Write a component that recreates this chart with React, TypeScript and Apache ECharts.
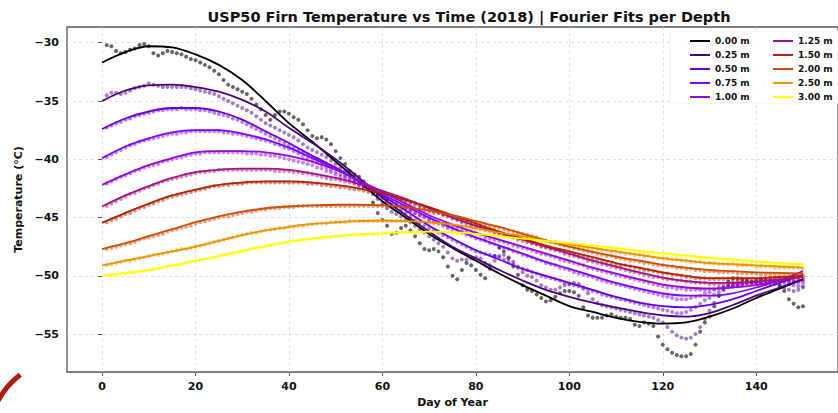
import React, { useEffect, useRef } from "react";
import * as echarts from "echarts";

const depthNames = ["0.00 m", "0.25 m", "0.50 m", "0.75 m", "1.00 m", "1.25 m", "1.50 m", "2.00 m", "2.50 m", "3.00 m"];
const depthColors = ["#000000", "#4a0080", "#6801dd", "#8004ff", "#9309dd", "#a51280", "#b42000", "#d04c00", "#e99400", "#ffff00"];

const xTicks = [0, 20, 40, 60, 80, 100, 120, 140];
const yTicks = [-55, -50, -45, -40, -35, -30];

const fitDays = [0, 5, 10, 15, 20, 25, 30, 35, 40, 45, 50, 55, 60, 65, 70, 75, 80, 85, 90, 95, 100, 105, 110, 115, 120, 125, 130, 135, 140, 145, 150];
const dataDays = Array.from({ length: 150 }, (_, i) => i + 1);

const fit000 = [-31.7, -30.8, -30.3, -30.4, -31.0, -31.9, -33.2, -35.0, -36.9, -38.5, -40.2, -41.9, -43.6, -45.0, -46.4, -47.6, -48.7, -49.8, -50.8, -51.7, -52.6, -53.1, -53.6, -53.95, -54.1, -54.0, -53.5, -52.8, -51.9, -51.1, -50.3];
const fit025 = [-35.0, -34.1, -33.65, -33.6, -33.8, -34.2, -34.9, -35.9, -37.3, -38.6, -40.0, -41.6, -43.3, -44.8, -46.2, -47.5, -48.5, -49.5, -50.4, -51.2, -51.8, -52.3, -52.7, -53.1, -53.4, -53.5, -53.2, -52.5, -51.7, -51.0, -50.3];
const fit050 = [-37.4, -36.5, -35.9, -35.6, -35.6, -35.9, -36.6, -37.6, -38.6, -39.7, -40.7, -41.9, -43.1, -44.4, -45.7, -46.8, -47.8, -48.6, -49.4, -50.0, -50.6, -51.2, -51.8, -52.3, -52.6, -52.7, -52.5, -52.0, -51.3, -50.6, -49.9];
const fit075 = [-39.9, -38.9, -38.2, -37.7, -37.5, -37.5, -37.8, -38.3, -39.0, -39.9, -40.8, -41.9, -43.0, -44.0, -45.0, -45.9, -46.7, -47.4, -48.1, -48.8, -49.4, -50.0, -50.6, -51.1, -51.5, -51.7, -51.7, -51.5, -51.0, -50.4, -49.6];
const fit100 = [-42.2, -41.3, -40.5, -39.9, -39.4, -39.3, -39.3, -39.4, -39.7, -40.2, -40.9, -41.8, -42.8, -43.8, -44.8, -45.6, -46.3, -46.9, -47.5, -48.1, -48.7, -49.3, -49.8, -50.3, -50.75, -51.0, -51.1, -51.0, -50.8, -50.4, -50.0];
const fit125 = [-44.05, -43.1, -42.3, -41.6, -41.1, -40.9, -40.8, -40.8, -40.9, -41.2, -41.6, -42.1, -42.7, -43.4, -44.2, -45.0, -45.7, -46.3, -46.9, -47.5, -48.1, -48.7, -49.2, -49.7, -50.15, -50.45, -50.6, -50.6, -50.5, -50.3, -50.1];
const fit150 = [-45.45, -44.6, -43.8, -43.1, -42.6, -42.2, -42.0, -41.9, -41.9, -42.0, -42.2, -42.5, -42.9, -43.5, -44.1, -44.8, -45.5, -46.2, -46.8, -47.4, -47.9, -48.4, -48.9, -49.3, -49.7, -50.0, -50.2, -50.2, -50.2, -50.1, -50.0];
const fit200 = [-47.7, -47.2, -46.6, -46.0, -45.4, -44.9, -44.5, -44.2, -44.05, -43.95, -43.9, -43.9, -43.95, -44.1, -44.4, -44.8, -45.3, -45.8, -46.4, -46.95, -47.5, -47.95, -48.35, -48.7, -49.05, -49.3, -49.5, -49.6, -49.7, -49.75, -49.8];
const fit250 = [-49.1, -48.7, -48.3, -47.9, -47.5, -47.0, -46.5, -46.1, -45.8, -45.55, -45.4, -45.3, -45.25, -45.3, -45.4, -45.6, -45.9, -46.3, -46.6, -47.0, -47.3, -47.6, -47.9, -48.2, -48.5, -48.7, -48.9, -49.0, -49.1, -49.2, -49.3];
const fit300 = [-50.0, -49.75, -49.5, -49.1, -48.7, -48.3, -47.85, -47.45, -47.05, -46.8, -46.6, -46.45, -46.35, -46.25, -46.2, -46.25, -46.4, -46.6, -46.8, -47.0, -47.2, -47.4, -47.6, -47.85, -48.05, -48.25, -48.45, -48.6, -48.75, -48.9, -49.0];

const obs000 = [
  -30.2, -30.3, -30.7, -30.9, -30.8, -30.6, -30.5, -30.2, -30.1, -30.3,
  -30.9, -31.1, -30.9, -30.7, -30.8, -30.9, -31.0, -31.2, -31.4, -31.5,
  -31.7, -31.9, -32.1, -32.4, -32.7, -33.2, -33.6, -33.8, -34.0, -34.2,
  -34.4, -34.8, -35.3, -35.7, -36.2, -36.6, -36.2, -35.9, -35.9, -36.1,
  -36.4, -36.6, -37.0, -37.5, -38.0, -38.2, -38.1, -38.3, -38.7, -39.3,
  -39.9, -40.4, -41.0, -41.3, -41.5, -41.9, -42.6, -43.7, -44.6, -45.2,
  -45.7, -46.4, -46.3, -45.9, -45.7, -46.1, -46.6, -47.2, -47.7, -47.8,
  -47.7, -47.9, -48.4, -49.2, -50.0, -50.3, -49.5, -48.9, -49.1, -49.5,
  -49.9, -50.2, -49.4, -48.3, -47.6, -47.9, -48.5, -49.2, -49.9, -50.8,
  -51.2, -51.3, -51.6, -51.9, -52.2, -52.1, -51.8, -51.5, -51.3, -51.3,
  -51.4, -51.7, -52.7, -53.4, -53.6, -53.6, -53.6, -53.4, -53.3, -53.5,
  -53.6, -53.6, -53.7, -54.2, -54.3, -54.0, -54.1, -54.3, -55.2, -55.9,
  -56.3, -56.6, -56.8, -56.9, -56.9, -56.7, -55.9, -54.8, -54.0, -53.5,
  -52.6, -51.7, -51.0, -50.5, -50.2, -50.2, -50.3, -50.4, -50.5, -50.4,
  -50.3, -50.4, -50.5, -50.5, -50.8, -51.3, -52.0, -52.4, -52.7, -52.6,
];
const obs025 = [
  -34.5, -34.3, -34.3, -34.4, -34.3, -34.1, -33.9, -33.8, -33.7, -33.5,
  -33.6, -33.7, -33.8, -33.8, -33.8, -33.8, -33.8, -33.8, -33.9, -34.0,
  -34.1, -34.2, -34.3, -34.4, -34.6, -34.8, -35.0, -35.2, -35.4, -35.6,
  -35.8, -36.0, -36.3, -36.6, -36.9, -37.1, -37.3, -37.5, -37.7, -37.9,
  -38.1, -38.4, -38.7, -39.0, -39.2, -39.4, -39.6, -39.8, -40.1, -40.4,
  -40.7, -41.0, -41.3, -41.6, -41.9, -42.2, -42.6, -43.0, -43.4, -43.8,
  -44.2, -44.5, -44.7, -44.9, -45.1, -45.4, -45.7, -46.0, -46.3, -46.6,
  -46.9, -47.2, -47.5, -48.0, -48.5, -48.7, -48.6, -48.6, -48.5, -48.4,
  -48.5, -48.9, -49.1, -48.7, -48.3, -48.2, -48.4, -48.8, -49.3, -49.7,
  -50.0, -50.1, -50.4, -50.8, -51.0, -51.2, -51.2, -51.0, -50.8, -50.7,
  -50.6, -50.7, -51.0, -51.5, -52.0, -52.3, -52.5, -52.6, -52.7, -52.8,
  -52.9, -53.0, -53.1, -53.2, -53.3, -53.4, -53.5, -53.6, -53.8, -54.0,
  -54.4, -54.8, -55.1, -55.3, -55.4, -55.3, -55.0, -54.4, -53.7, -53.0,
  -52.3, -51.7, -51.2, -50.8, -50.6, -50.5, -50.5, -50.5, -50.6, -50.6,
  -50.6, -50.7, -50.7, -50.7, -50.8, -51.0, -51.2, -51.3, -51.2, -51.0,
];
const obs050 = [
  -37.3, -37.1, -36.9, -36.8, -36.6, -36.5, -36.3, -36.2, -36.1, -36.0,
  -35.9, -35.8, -35.8, -35.7, -35.7, -35.7, -35.6, -35.7, -35.7, -35.7,
  -35.8, -35.8, -35.9, -36.0, -36.1, -36.2, -36.3, -36.5, -36.6, -36.8,
  -37.0, -37.2, -37.4, -37.6, -37.8, -38.0, -38.2, -38.4, -38.6, -38.8,
  -39.0, -39.2, -39.4, -39.6, -39.8, -40.0, -40.2, -40.4, -40.6, -40.8,
  -41.0, -41.3, -41.5, -41.8, -42.0, -42.3, -42.5, -42.8, -43.1, -43.3,
  -43.6, -43.9, -44.1, -44.4, -44.6, -44.9, -45.2, -45.4, -45.7, -45.9,
  -46.1, -46.3, -46.5, -46.7, -46.9, -47.1, -47.3, -47.5, -47.7, -47.9,
  -48.0, -48.1, -48.2, -48.3, -48.4, -48.6, -48.8, -49.0, -49.2, -49.4,
  -49.5, -49.7, -49.8, -50.0, -50.1, -50.2, -50.3, -50.4, -50.6, -50.7,
  -50.8, -50.9, -51.1, -51.2, -51.3, -51.4, -51.6, -51.7, -51.8, -51.9,
  -52.0, -52.1, -52.2, -52.3, -52.4, -52.5, -52.6, -52.7, -52.8, -52.9,
  -53.0, -53.1, -53.2, -53.2, -53.1, -52.9, -52.7, -52.4, -52.1, -51.9,
  -51.6, -51.4, -51.2, -51.0, -50.9, -50.8, -50.7, -50.6, -50.5, -50.5,
  -50.4, -50.4, -50.4, -50.5, -50.5, -50.6, -50.7, -50.8, -50.9, -50.9,
];
const obs075 = [
  -39.8, -39.6, -39.4, -39.2, -39.0, -38.8, -38.7, -38.5, -38.4, -38.3,
  -38.2, -38.1, -38.0, -37.9, -37.8, -37.8, -37.7, -37.7, -37.6, -37.6,
  -37.6, -37.6, -37.6, -37.6, -37.6, -37.7, -37.7, -37.8, -37.8, -37.9,
  -38.0, -38.1, -38.2, -38.3, -38.4, -38.5, -38.7, -38.8, -39.0, -39.1,
  -39.3, -39.5, -39.7, -39.9, -40.1, -40.3, -40.5, -40.7, -40.9, -41.1,
  -41.3, -41.5, -41.7, -41.9, -42.1, -42.3, -42.5, -42.8, -43.0, -43.2,
  -43.4, -43.6, -43.8, -44.0, -44.2, -44.4, -44.6, -44.8, -45.0, -45.2,
  -45.4, -45.5, -45.7, -45.9, -46.0, -46.2, -46.3, -46.5, -46.6, -46.8,
  -46.9, -47.0, -47.2, -47.3, -47.5, -47.6, -47.7, -47.9, -48.0, -48.2,
  -48.3, -48.4, -48.6, -48.7, -48.9, -49.0, -49.1, -49.3, -49.4, -49.5,
  -49.7, -49.8, -49.9, -50.0, -50.1, -50.3, -50.4, -50.5, -50.6, -50.7,
  -50.8, -50.9, -51.0, -51.1, -51.2, -51.3, -51.4, -51.5, -51.6, -51.7,
  -51.8, -51.9, -52.0, -52.0, -52.0, -51.9, -51.8, -51.7, -51.5, -51.4,
  -51.2, -51.1, -51.0, -50.9, -50.8, -50.7, -50.6, -50.6, -50.5, -50.5,
  -50.4, -50.4, -50.4, -50.4, -50.4, -50.4, -50.5, -50.5, -50.6, -50.6,
];
const obs100 = [
  -42.1, -41.9, -41.7, -41.5, -41.4, -41.2, -41.0, -40.9, -40.7, -40.6,
  -40.5, -40.4, -40.2, -40.1, -40.0, -39.9, -39.8, -39.7, -39.6, -39.5,
  -39.5, -39.4, -39.4, -39.4, -39.4, -39.4, -39.4, -39.4, -39.4, -39.4,
  -39.5, -39.5, -39.5, -39.6, -39.6, -39.7, -39.7, -39.8, -39.9, -40.0,
  -40.1, -40.2, -40.3, -40.4, -40.5, -40.7, -40.8, -41.0, -41.1, -41.3,
  -41.5, -41.6, -41.8, -42.0, -42.2, -42.4, -42.6, -42.8, -43.0, -43.2,
  -43.4, -43.6, -43.8, -44.0, -44.2, -44.4, -44.6, -44.8, -44.9, -45.1,
  -45.3, -45.4, -45.5, -45.7, -45.8, -45.9, -46.1, -46.2, -46.3, -46.4,
  -46.5, -46.7, -46.8, -46.9, -47.0, -47.1, -47.2, -47.4, -47.5, -47.6,
  -47.7, -47.8, -48.0, -48.1, -48.2, -48.3, -48.4, -48.6, -48.7, -48.8,
  -48.9, -49.0, -49.1, -49.3, -49.4, -49.5, -49.6, -49.7, -49.8, -49.9,
  -50.0, -50.1, -50.2, -50.3, -50.4, -50.5, -50.6, -50.7, -50.8, -50.9,
  -51.0, -51.0, -51.1, -51.1, -51.2, -51.2, -51.2, -51.2, -51.2, -51.1,
  -51.1, -51.0, -51.0, -50.9, -50.9, -50.8, -50.8, -50.7, -50.7, -50.6,
  -50.6, -50.5, -50.5, -50.4, -50.4, -50.4, -50.4, -50.4, -50.4, -50.4,
];
const obs125 = [
  -44.0, -43.8, -43.6, -43.4, -43.2, -43.0, -42.9, -42.7, -42.5, -42.4,
  -42.2, -42.1, -41.9, -41.8, -41.7, -41.6, -41.5, -41.4, -41.3, -41.2,
  -41.1, -41.1, -41.0, -41.0, -40.9, -40.9, -40.9, -40.9, -40.9, -40.9,
  -40.9, -40.9, -40.9, -40.9, -40.9, -40.9, -41.0, -41.0, -41.0, -41.0,
  -41.1, -41.1, -41.2, -41.2, -41.3, -41.4, -41.5, -41.6, -41.7, -41.7,
  -41.8, -41.9, -42.0, -42.1, -42.2, -42.3, -42.5, -42.6, -42.7, -42.8,
  -43.0, -43.1, -43.3, -43.4, -43.5, -43.7, -43.9, -44.0, -44.2, -44.3,
  -44.5, -44.6, -44.8, -44.9, -45.1, -45.2, -45.4, -45.5, -45.7, -45.8,
  -45.9, -46.0, -46.1, -46.3, -46.4, -46.5, -46.6, -46.7, -46.9, -47.0,
  -47.1, -47.2, -47.3, -47.5, -47.6, -47.7, -47.8, -47.9, -48.1, -48.2,
  -48.3, -48.4, -48.5, -48.7, -48.8, -48.9, -49.0, -49.1, -49.2, -49.3,
  -49.4, -49.5, -49.6, -49.7, -49.8, -49.9, -50.0, -50.1, -50.1, -50.2,
  -50.3, -50.3, -50.4, -50.4, -50.5, -50.5, -50.6, -50.6, -50.6, -50.7,
  -50.7, -50.7, -50.7, -50.7, -50.7, -50.7, -50.7, -50.6, -50.6, -50.6,
  -50.6, -50.5, -50.5, -50.5, -50.4, -50.4, -50.4, -50.4, -50.3, -50.3,
];
const obs150 = [
  -45.4, -45.2, -45.1, -44.9, -44.7, -44.6, -44.4, -44.2, -44.1, -43.9,
  -43.8, -43.6, -43.5, -43.3, -43.2, -43.1, -43.0, -42.9, -42.8, -42.7,
  -42.6, -42.5, -42.4, -42.3, -42.3, -42.2, -42.2, -42.1, -42.1, -42.1,
  -42.0, -42.0, -42.0, -42.0, -42.0, -42.0, -42.0, -42.0, -42.0, -42.0,
  -42.0, -42.0, -42.0, -42.1, -42.1, -42.1, -42.2, -42.2, -42.3, -42.3,
  -42.4, -42.4, -42.5, -42.6, -42.6, -42.7, -42.8, -42.9, -43.0, -43.0,
  -43.1, -43.2, -43.4, -43.5, -43.6, -43.7, -43.8, -44.0, -44.1, -44.2,
  -44.4, -44.5, -44.7, -44.8, -45.0, -45.1, -45.3, -45.4, -45.6, -45.7,
  -45.8, -46.0, -46.1, -46.2, -46.3, -46.5, -46.6, -46.7, -46.8, -46.9,
  -47.0, -47.2, -47.3, -47.4, -47.5, -47.6, -47.7, -47.8, -47.9, -48.0,
  -48.1, -48.2, -48.3, -48.4, -48.5, -48.6, -48.7, -48.8, -48.9, -49.0,
  -49.1, -49.1, -49.2, -49.3, -49.4, -49.5, -49.5, -49.6, -49.7, -49.8,
  -49.8, -49.9, -49.9, -50.0, -50.1, -50.1, -50.2, -50.2, -50.2, -50.3,
  -50.3, -50.3, -50.3, -50.3, -50.3, -50.3, -50.3, -50.3, -50.3, -50.3,
  -50.3, -50.3, -50.2, -50.2, -50.2, -50.2, -50.2, -50.1, -50.1, -50.1,
];
const obs200 = [
  -47.7, -47.6, -47.5, -47.4, -47.3, -47.2, -47.1, -46.9, -46.8, -46.7,
  -46.6, -46.5, -46.4, -46.2, -46.1, -46.0, -45.9, -45.8, -45.7, -45.5,
  -45.4, -45.3, -45.2, -45.1, -45.0, -44.9, -44.9, -44.8, -44.7, -44.6,
  -44.5, -44.5, -44.4, -44.3, -44.3, -44.2, -44.2, -44.2, -44.1, -44.1,
  -44.1, -44.0, -44.0, -44.0, -44.0, -44.0, -44.0, -44.0, -44.0, -44.0,
  -44.0, -44.0, -44.0, -44.0, -44.0, -44.0, -44.0, -44.0, -44.0, -44.0,
  -44.1, -44.1, -44.1, -44.2, -44.2, -44.3, -44.3, -44.4, -44.4, -44.5,
  -44.6, -44.6, -44.7, -44.8, -44.9, -45.0, -45.1, -45.2, -45.3, -45.4,
  -45.5, -45.6, -45.7, -45.8, -45.9, -46.0, -46.1, -46.2, -46.3, -46.4,
  -46.5, -46.6, -46.7, -46.9, -47.0, -47.1, -47.2, -47.3, -47.4, -47.5,
  -47.6, -47.7, -47.8, -47.9, -48.0, -48.1, -48.2, -48.3, -48.3, -48.4,
  -48.5, -48.6, -48.7, -48.7, -48.8, -48.9, -48.9, -49.0, -49.1, -49.1,
  -49.2, -49.2, -49.3, -49.3, -49.4, -49.4, -49.5, -49.5, -49.6, -49.6,
  -49.6, -49.7, -49.7, -49.7, -49.7, -49.8, -49.8, -49.8, -49.8, -49.8,
  -49.9, -49.9, -49.9, -49.9, -49.9, -49.9, -49.9, -49.9, -49.9, -49.9,
];
const obs250 = [
  -49.1, -49.0, -48.9, -48.8, -48.7, -48.7, -48.6, -48.5, -48.4, -48.3,
  -48.2, -48.2, -48.1, -48.0, -47.9, -47.8, -47.7, -47.7, -47.6, -47.5,
  -47.4, -47.3, -47.2, -47.1, -47.0, -46.9, -46.8, -46.7, -46.6, -46.5,
  -46.4, -46.3, -46.3, -46.2, -46.1, -46.0, -46.0, -45.9, -45.9, -45.8,
  -45.8, -45.7, -45.7, -45.6, -45.6, -45.5, -45.5, -45.5, -45.4, -45.4,
  -45.4, -45.4, -45.3, -45.3, -45.3, -45.3, -45.3, -45.3, -45.3, -45.3,
  -45.3, -45.3, -45.3, -45.3, -45.3, -45.4, -45.4, -45.4, -45.4, -45.5,
  -45.5, -45.5, -45.6, -45.6, -45.7, -45.7, -45.8, -45.8, -45.9, -46.0,
  -46.0, -46.1, -46.2, -46.2, -46.3, -46.4, -46.4, -46.5, -46.6, -46.7,
  -46.7, -46.8, -46.9, -46.9, -47.0, -47.1, -47.1, -47.2, -47.3, -47.3,
  -47.4, -47.5, -47.5, -47.6, -47.6, -47.7, -47.8, -47.8, -47.9, -47.9,
  -48.0, -48.1, -48.1, -48.2, -48.2, -48.3, -48.3, -48.4, -48.5, -48.5,
  -48.5, -48.6, -48.6, -48.7, -48.7, -48.8, -48.8, -48.8, -48.9, -48.9,
  -48.9, -49.0, -49.0, -49.0, -49.0, -49.1, -49.1, -49.1, -49.1, -49.2,
  -49.2, -49.2, -49.2, -49.3, -49.3, -49.3, -49.3, -49.3, -49.3, -49.4,
];
const obs300 = [
  -50.0, -49.9, -49.9, -49.8, -49.8, -49.7, -49.7, -49.6, -49.6, -49.5,
  -49.4, -49.4, -49.3, -49.2, -49.1, -49.1, -49.0, -48.9, -48.8, -48.7,
  -48.7, -48.6, -48.5, -48.4, -48.3, -48.2, -48.2, -48.1, -48.0, -47.9,
  -47.8, -47.7, -47.6, -47.6, -47.5, -47.4, -47.3, -47.2, -47.2, -47.1,
  -47.0, -47.0, -46.9, -46.9, -46.8, -46.8, -46.8, -46.7, -46.7, -46.6,
  -46.6, -46.6, -46.5, -46.5, -46.5, -46.5, -46.4, -46.4, -46.4, -46.4,
  -46.3, -46.3, -46.3, -46.3, -46.3, -46.3, -46.3, -46.3, -46.3, -46.3,
  -46.3, -46.3, -46.3, -46.3, -46.3, -46.4, -46.4, -46.4, -46.4, -46.5,
  -46.5, -46.5, -46.6, -46.6, -46.7, -46.7, -46.7, -46.8, -46.8, -46.9,
  -46.9, -46.9, -47.0, -47.0, -47.1, -47.1, -47.2, -47.2, -47.2, -47.3,
  -47.3, -47.4, -47.4, -47.5, -47.5, -47.5, -47.6, -47.6, -47.7, -47.7,
  -47.8, -47.8, -47.8, -47.9, -47.9, -48.0, -48.0, -48.1, -48.1, -48.1,
  -48.2, -48.2, -48.3, -48.3, -48.3, -48.4, -48.4, -48.5, -48.5, -48.5,
  -48.6, -48.6, -48.6, -48.7, -48.7, -48.7, -48.8, -48.8, -48.8, -48.9,
  -48.9, -48.9, -48.9, -49.0, -49.0, -49.0, -49.0, -49.1, -49.1, -49.1,
];

const fitSets = [fit000, fit025, fit050, fit075, fit100, fit125, fit150, fit200, fit250, fit300];
const obsSets = [obs000, obs025, obs050, obs075, obs100, obs125, obs150, obs200, obs250, obs300];

const FONT = "DejaVu Sans";
const fmt = (v: number) => (v < 0 ? "\u2212" + Math.abs(v) : String(v));

export default function App() {
  const ref = useRef<HTMLDivElement>(null);
  useEffect(() => {
    document.body.style.margin = "0";
    if (!ref.current) return;
    const chart = echarts.init(ref.current, undefined, { renderer: "svg" });
    const series: any[] = [];
    depthNames.forEach((name, i) => {
      series.push({
        type: "scatter",
        name: name + " data",
        data: dataDays.map((d, j) => [d, obsSets[i][j]]),
        symbol: "circle",
        symbolSize: 4,
        itemStyle: { color: depthColors[i], opacity: i === 0 ? 0.6 : 0.5 },
        silent: true,
        z: 2,
      });
      series.push({
        type: "line",
        name,
        data: fitDays.map((d, j) => [d, fitSets[i][j]]),
        smooth: 0.35,
        showSymbol: false,
        symbol: "none",
        lineStyle: { color: depthColors[i], width: 1.8 },
        itemStyle: { color: depthColors[i] },
        z: 3,
      });
    });
    const legendBase = {
      orient: "vertical",
      top: 36,
      itemGap: 4,
      itemWidth: 20,
      itemHeight: 2,
      icon: "rect",
      padding: 0,
      selectedMode: false,
      textStyle: { fontFamily: FONT, fontSize: 9, fontWeight: "bold", color: "#111", lineHeight: 10 },
      z: 6,
    };
    const option: any = {
      animation: false,
      backgroundColor: "#ffffff",
      title: {
        text: "USP50 Firn Temperature vs Time (2018) | Fourier Fits per Depth",
        left: 464,
        top: 4,
        textAlign: "center",
        textStyle: { fontFamily: FONT, fontWeight: "bold", fontSize: 14.5, color: "#111" },
      },
      grid: { left: 67, top: 27, width: 779, height: 347, show: true, borderColor: "#555", borderWidth: 1.3, backgroundColor: "transparent" },
      xAxis: {
        type: "value",
        min: -7.5,
        max: 157.5,
        name: "Day of Year",
        nameLocation: "middle",
        nameGap: 25,
        nameTextStyle: { fontFamily: FONT, fontWeight: "bold", fontSize: 11, color: "#111" },
        axisLine: { show: false },
        axisTick: { show: true, length: 4, lineStyle: { color: "#555", width: 1 }, customValues: xTicks },
        axisLabel: { customValues: xTicks, formatter: fmt, margin: 9, fontFamily: FONT, fontWeight: "bold", fontSize: 11, color: "#111" },
        splitLine: { show: true, lineStyle: { color: "#d9d9d9", width: 0.8, type: [3, 3] } },
      },
      yAxis: {
        type: "value",
        min: -58.25,
        max: -28.65,
        name: "Temperature (\u00b0C)",
        nameLocation: "middle",
        nameGap: 37,
        nameTextStyle: { fontFamily: FONT, fontWeight: "bold", fontSize: 11, color: "#111" },
        axisLine: { show: false },
        axisTick: { show: true, length: 4, lineStyle: { color: "#555", width: 1 }, customValues: yTicks },
        axisLabel: { customValues: yTicks, formatter: fmt, margin: 8, fontFamily: FONT, fontWeight: "bold", fontSize: 11, color: "#111" },
        splitLine: { show: true, lineStyle: { color: "#d9d9d9", width: 0.8, type: [3, 3] } },
      },
      legend: [
        { ...legendBase, left: 690, data: depthNames.slice(0, 5) },
        { ...legendBase, left: 773, data: depthNames.slice(5) },
      ],
      graphic: [
        {
          type: "rect",
          shape: { x: 670, y: 31, width: 172, height: 72, r: 3 },
          style: { fill: "rgba(255,255,255,0.9)", stroke: "#ececec", lineWidth: 0.8 },
          z: 5,
          silent: true,
        },
        {
          type: "arc",
          shape: { cx: 70, cy: 440, r: 82, startAngle: 3.25, endAngle: 4.06 },
          style: { stroke: "#b3180c", lineWidth: 5, fill: "none" },
          z: 10,
          silent: true,
        },
      ],
      series,
    };
    chart.setOption(option);
    return () => chart.dispose();
  }, []);
  return <div ref={ref} style={{ width: 838, height: 413 }} />;
}
